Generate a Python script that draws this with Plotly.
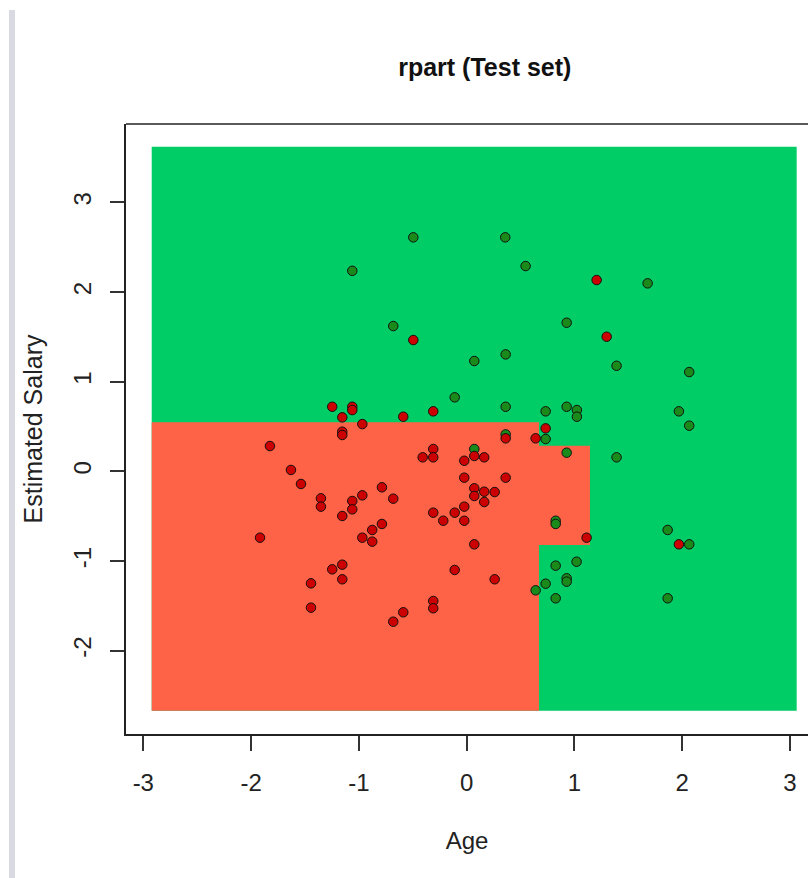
import plotly.graph_objects as go

# ---- data ----
# decision regions (rpart classifier on the grid)
grid_age = [-2.922, 3.062]
grid_salary = [-2.668, 3.619]
age_split1 = 0.671
age_split2 = 1.144
salary_split_top = 0.547
salary_split_mid = 0.287
salary_split_low = -0.821

# test set points, class 1 (purchased)
green_age = [-1.061, -0.495, 0.358, 0.547, -0.681, 0.928, 0.071, 0.362, -0.111, 0.362,
             0.733, 0.928, 1.023, 1.023, 1.679, 1.391, 2.065, 1.969, 2.065, 1.391,
             1.865, 2.065, 1.020, 1.865, 0.362, 0.733, 0.928, 0.071, 0.826, 0.826,
             0.826, 0.928, 0.928, 0.733, 0.640, 0.826]
green_salary = [2.237, 2.610, 2.610, 2.290, 1.621, 1.658, 1.231, 1.305, 0.826, 0.721,
                0.670, 0.721, 0.684, 0.610, 2.097, 1.178, 1.108, 0.670, 0.510, 0.157,
                -0.653, -0.813, -1.007, -1.415, 0.413, 0.361, 0.209, 0.250, -0.550, -0.586,
                -1.051, -1.192, -1.229, -1.252, -1.326, -1.415]

# test set points, class 0
red_age = [-0.495, -0.310, -0.588, 1.206, 1.299, 1.969, 1.113, -1.247, -1.061, -1.061,
           -1.154, -0.968, -1.154, -1.154, -1.825, -1.630, -1.537, -1.352, -1.352, -1.061,
           -1.061, -0.968, -1.154, -1.917, -0.968, -1.247, -1.154, -1.154, -1.444, -1.444,
           0.362, 0.640, 0.733, -0.310, -0.408, -0.310, 0.071, 0.163, -0.022, -0.022,
           0.362, 0.071, 0.163, 0.260, 0.071, 0.163, -0.022, -0.111, -0.310, -0.217,
           -0.022, -0.786, -0.681, -0.786, -0.876, -0.876, 0.071, -0.111, 0.260, -0.310,
           -0.310, -0.588, -0.681]
red_salary = [1.465, 0.670, 0.610, 2.134, 1.502, -0.813, -0.739, 0.721, 0.721, 0.684,
              0.603, 0.528, 0.443, 0.406, 0.283, 0.016, -0.140, -0.300, -0.393, -0.330,
              -0.423, -0.267, -0.497, -0.739, -0.739, -1.092, -1.040, -1.203, -1.248, -1.519,
              0.369, 0.369, 0.480, 0.250, 0.157, 0.157, 0.172, 0.157, 0.119, -0.070,
              -0.070, -0.188, -0.226, -0.230, -0.274, -0.341, -0.393, -0.460, -0.460, -0.550,
              -0.550, -0.177, -0.304, -0.586, -0.653, -0.783, -0.813, -1.099, -1.203, -1.445,
              -1.526, -1.571, -1.676]

x_ticks = [-3, -2, -1, 0, 1, 2, 3]
y_ticks = [-2, -1, 0, 1, 2, 3]

# ---- figure ----
x0, x1 = grid_age
y0, y1 = grid_salary
green_poly_x = [x0, x1, x1, x0, x0]
green_poly_y = [y0, y0, y1, y1, y0]
red_poly_x = [x0, age_split1, age_split1, age_split2, age_split2, age_split1, age_split1, x0, x0]
red_poly_y = [y0, y0, salary_split_low, salary_split_low, salary_split_mid, salary_split_mid,
              salary_split_top, salary_split_top, y0]

fig = go.Figure()
fig.add_trace(go.Scatter(x=green_poly_x, y=green_poly_y, fill="toself", mode="none",
                         fillcolor="#00CD66", hoverinfo="skip", showlegend=False))
fig.add_trace(go.Scatter(x=red_poly_x, y=red_poly_y, fill="toself", mode="none",
                         fillcolor="#FF6347", hoverinfo="skip", showlegend=False))
fig.add_trace(go.Scatter(x=green_age, y=green_salary, mode="markers", showlegend=False,
                         marker=dict(size=9.5, color="#1A8B1A", line=dict(color="#111111", width=1))))
fig.add_trace(go.Scatter(x=red_age, y=red_salary, mode="markers", showlegend=False,
                         marker=dict(size=9.5, color="#CC0000", line=dict(color="#111111", width=1))))

font_family = "Liberation Sans, Arial, sans-serif"
fig.update_layout(
    width=808, height=878,
    margin=dict(l=126, r=0, t=124, b=144),
    paper_bgcolor="white", plot_bgcolor="white",
    font=dict(family=font_family, color="#222222", size=24),
    title=dict(text="<b>rpart (Test set)</b>", x=0.600, xref="container", xanchor="center",
               y=1 - 67 / 878, yref="container", yanchor="middle",
               font=dict(size=25, color="#111111", family=font_family)),
    xaxis=dict(range=[-3.1605, 3.167], tickvals=x_ticks, ticktext=[str(v) for v in x_ticks],
               showgrid=False, zeroline=False, showline=True, linecolor="#222222", linewidth=1.5,
               ticks="outside", ticklen=15, tickwidth=1.5, tickcolor="#333333",
               ticklabelstandoff=11, tickfont=dict(size=24),
               title=dict(text="Age", standoff=38, font=dict(size=24)), automargin=False),
    yaxis=dict(range=[-2.928, 3.874], tickvals=y_ticks, ticktext=[str(v) for v in y_ticks],
               showgrid=False, zeroline=False, showline=True, linecolor="#222222", linewidth=1.5,
               ticks="outside", ticklen=14, tickwidth=1.5, tickcolor="#333333",
               tickangle=-90, ticklabelstandoff=10, tickfont=dict(size=24),
               title=dict(text="Estimated Salary", standoff=19, font=dict(size=25)), automargin=False),
    shapes=[
        dict(type="line", xref="paper", yref="paper", x0=0, x1=1, y0=1, y1=1,
             line=dict(color="#222222", width=1.5)),
        dict(type="rect", xref="paper", yref="paper", x0=(9 - 126) / 682, x1=(15 - 126) / 682,
             y0=(734 - 878) / 610, y1=1 + (124 - 10) / 610,
             fillcolor="#D9D9E1", line=dict(width=0), layer="above"),
    ],
)

fig.write_html("out.html")
